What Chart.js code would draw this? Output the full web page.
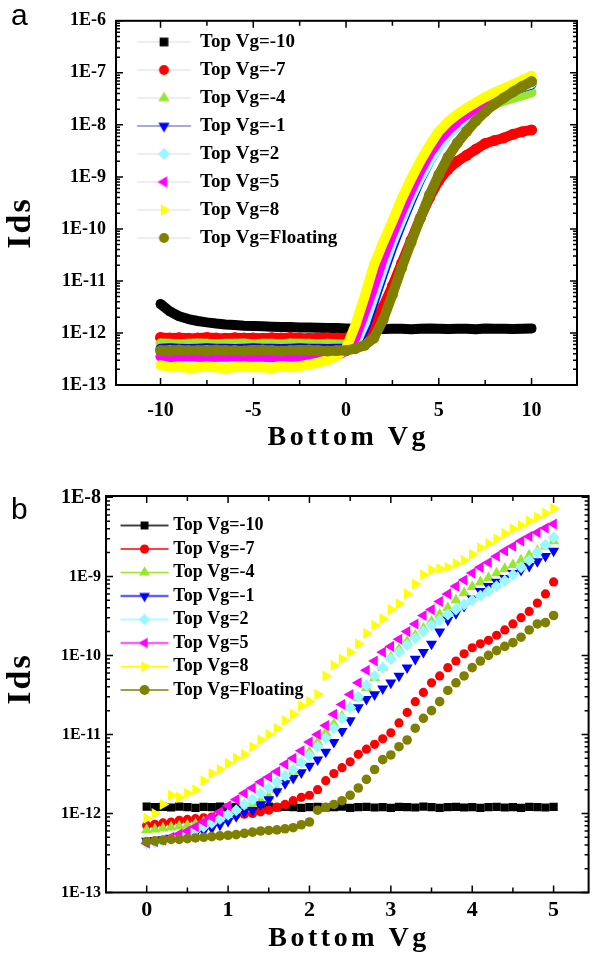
<!DOCTYPE html>
<html>
<head>
<meta charset="utf-8">
<script src="https://cdn.jsdelivr.net/npm/chart.js@4.4.1/dist/chart.umd.min.js"></script>
<style>
  body { margin: 0; background: #fff; }
  #wrap { position: relative; width: 595px; height: 955px; overflow: hidden; background: #fff; }
  canvas { position: absolute; left: 0; }
  #chartA { top: 0; }
  #chartB { top: 470px; }
  .panel { position: absolute; left: 11px; font: 30px "Liberation Sans", Arial, sans-serif; line-height: 30px; color: #000; }
</style>
</head>
<body>
<div id="wrap">
  <canvas id="chartA" width="595" height="470"></canvas>
  <canvas id="chartB" width="595" height="485"></canvas>
  <div class="panel" style="top:0">a</div>
  <div class="panel" style="top:494px">b</div>
</div>
<script>
// ---- data ----
const seriesNames = ["Top Vg=-10", "Top Vg=-7", "Top Vg=-4", "Top Vg=-1", "Top Vg=2", "Top Vg=5", "Top Vg=8", "Top Vg=Floating"];

// panel a: Bottom Vg sweep -10..10
const xTicksA = [-10, -5, 0, 5, 10];
const xMinorA = [-7.5, -2.5, 2.5, 7.5];
const yTickLabelsA = ["1E-13", "1E-12", "1E-11", "1E-10", "1E-9", "1E-8", "1E-7", "1E-6"];

const vgA = [-10, -9.5, -9, -8.5, -8, -7.5, -7, -6.5, -6, -5.5, -5, -4.5, -4, -3.5, -3, -2.5, -2, -1.5, -1, -0.5,
  0, 0.5, 1, 1.5, 2, 2.5, 3, 3.5, 4, 4.5, 5, 5.5, 6, 6.5, 7, 7.5, 8, 8.5, 9, 9.5, 10];

const idsA_m10 = [3.6e-12, 2.6e-12, 2.1e-12, 1.85e-12, 1.7e-12, 1.6e-12, 1.52e-12, 1.46e-12, 1.42e-12, 1.38e-12,
  1.36e-12, 1.34e-12, 1.32e-12, 1.3e-12, 1.3e-12, 1.28e-12, 1.27e-12, 1.26e-12, 1.25e-12, 1.24e-12,
  1.22e-12,
  1.21e-12, 1.2e-12, 1.22e-12, 1.19e-12, 1.2e-12, 1.21e-12, 1.18e-12, 1.2e-12, 1.22e-12, 1.2e-12,
  1.19e-12, 1.21e-12, 1.2e-12, 1.18e-12, 1.22e-12, 1.2e-12, 1.21e-12, 1.19e-12, 1.2e-12, 1.22e-12];
const idsA_m7 = [8.2e-13, 8e-13, 8.1e-13, 7.9e-13, 8e-13, 8.2e-13, 8e-13, 7.9e-13, 8.1e-13, 8e-13,
  8e-13, 7.9e-13, 8.1e-13, 8e-13, 8.2e-13, 8e-13, 7.9e-13, 8e-13, 8.1e-13, 8e-13,
  8e-13,
  8.5e-13, 1e-12, 1.6e-12, 3.2e-12, 8e-12, 2.2e-11, 6e-11, 1.6e-10, 4e-10, 8.5e-10,
  1.4e-9, 2e-9, 2.6e-9, 3.4e-9, 4.4e-9, 5e-9, 5.6e-9, 6.6e-9, 7.4e-9, 8e-9];
const idsA_m4 = [6.3e-13, 6.2e-13, 6.1e-13, 6.2e-13, 6.3e-13, 6.2e-13, 6.1e-13, 6.2e-13, 6.2e-13, 6.3e-13,
  6.1e-13, 6.2e-13, 6.2e-13, 6.1e-13, 6.3e-13, 6.2e-13, 6.2e-13, 6.1e-13, 6.2e-13, 6.1e-13,
  6e-13,
  6.5e-13, 1.4e-12, 4.5e-12, 1.5e-11, 5e-11, 1.4e-10, 3.8e-10, 9e-10, 2e-9, 3.8e-9,
  6.5e-9, 9.5e-9, 1.3e-8, 1.7e-8, 2.1e-8, 2.5e-8, 2.9e-8, 3.3e-8, 3.7e-8, 4.2e-8];
const idsA_m1 = [5e-13, 5.1e-13, 5e-13, 4.9e-13, 5e-13, 5.1e-13, 5e-13, 5e-13, 4.9e-13, 5e-13,
  5.1e-13, 5e-13, 5e-13, 4.9e-13, 5e-13, 5.1e-13, 5e-13, 5e-13, 4.9e-13, 5e-13,
  5e-13,
  5.5e-13, 1.2e-12, 4e-12, 1.4e-11, 4.5e-11, 1.3e-10, 3.5e-10, 9e-10, 2e-9, 4e-9,
  7e-9, 1.05e-8, 1.5e-8, 2e-8, 2.6e-8, 3.2e-8, 3.9e-8, 4.6e-8, 5.3e-8, 6e-8];
const idsA_2 = [4.5e-13, 4.6e-13, 4.5e-13, 4.4e-13, 4.5e-13, 4.6e-13, 4.5e-13, 4.5e-13, 4.4e-13, 4.5e-13,
  4.6e-13, 4.5e-13, 4.5e-13, 4.4e-13, 4.5e-13, 4.6e-13, 4.5e-13, 4.5e-13, 4.4e-13, 4.5e-13,
  4.6e-13,
  6e-13, 1.5e-12, 5e-12, 1.7e-11, 5.5e-11, 1.5e-10, 4e-10, 9.5e-10, 2e-9, 3.8e-9,
  6.5e-9, 1e-8, 1.4e-8, 1.9e-8, 2.5e-8, 3.1e-8, 3.8e-8, 4.6e-8, 5.4e-8, 6.2e-8];
const idsA_5 = [3.5e-13, 3.4e-13, 3.5e-13, 3.6e-13, 3.5e-13, 3.4e-13, 3.5e-13, 3.5e-13, 3.6e-13, 3.4e-13,
  3.5e-13, 3.5e-13, 3.4e-13, 3.6e-13, 3.5e-13, 3.5e-13, 3.4e-13, 3.5e-13, 3.6e-13, 3.7e-13,
  4.5e-13,
  8e-13, 2.5e-12, 8e-12, 2.8e-11, 8e-11, 2.2e-10, 5.5e-10, 1.3e-9, 2.8e-9, 5e-9,
  8e-9, 1.15e-8, 1.6e-8, 2.1e-8, 2.8e-8, 3.5e-8, 4.3e-8, 5.2e-8, 6e-8, 7e-8];
const idsA_8 = [2.4e-13, 2.2e-13, 2.3e-13, 2.1e-13, 2.2e-13, 2.3e-13, 2.2e-13, 2.1e-13, 2.2e-13, 2.3e-13,
  2.2e-13, 2.2e-13, 2.1e-13, 2.3e-13, 2.2e-13, 2.3e-13, 2.5e-13, 2.7e-13, 3e-13, 3.6e-13,
  5e-13,
  1.4e-12, 5e-12, 2e-11, 5.5e-11, 1.4e-10, 3.8e-10, 9e-10, 2e-9, 4e-9, 7.5e-9,
  1.15e-8, 1.6e-8, 2.1e-8, 2.7e-8, 3.4e-8, 4.2e-8, 5e-8, 6e-8, 7.2e-8, 8.8e-8];
const idsA_f = [4.6e-13, 4.5e-13, 4.7e-13, 4.6e-13, 4.6e-13, 4.5e-13, 4.7e-13, 4.6e-13, 4.6e-13, 4.5e-13,
  4.6e-13, 4.7e-13, 4.6e-13, 4.5e-13, 4.6e-13, 4.6e-13, 4.7e-13, 4.6e-13, 4.5e-13, 4.6e-13,
  4.6e-13,
  5e-13, 5.8e-13, 8e-13, 1.8e-12, 5.5e-12, 1.8e-11, 5.5e-11, 1.6e-10, 4.5e-10, 1.1e-9,
  2.4e-9, 4.5e-9, 7.5e-9, 1.2e-8, 1.8e-8, 2.5e-8, 3.3e-8, 4.3e-8, 5.5e-8, 6.8e-8];

// panel b: Bottom Vg sweep 0..5
const xTicksB = [0, 1, 2, 3, 4, 5];
const xMinorB = [0.5, 1.5, 2.5, 3.5, 4.5];
const yTickLabelsB = ["1E-13", "1E-12", "1E-11", "1E-10", "1E-9", "1E-8"];

const vgB = [0, 0.1, 0.2, 0.3, 0.4, 0.5, 0.6, 0.7, 0.8, 0.9,
  1, 1.1, 1.2, 1.3, 1.4, 1.5, 1.6, 1.7, 1.8, 1.9,
  2, 2.1, 2.2, 2.3, 2.4, 2.5, 2.6, 2.7, 2.8, 2.9,
  3, 3.1, 3.2, 3.3, 3.4, 3.5, 3.6, 3.7, 3.8, 3.9,
  4, 4.1, 4.2, 4.3, 4.4, 4.5, 4.6, 4.7, 4.8, 4.9, 5];

const idsB_m10 = [1.22e-12, 1.2e-12, 1.21e-12, 1.19e-12, 1.22e-12, 1.2e-12, 1.18e-12, 1.21e-12, 1.2e-12, 1.22e-12,
  1.19e-12, 1.2e-12, 1.21e-12, 1.18e-12, 1.2e-12, 1.22e-12, 1.19e-12, 1.21e-12, 1.2e-12, 1.18e-12,
  1.2e-12, 1.21e-12, 1.19e-12, 1.2e-12, 1.22e-12, 1.18e-12, 1.2e-12, 1.21e-12, 1.19e-12, 1.2e-12,
  1.18e-12, 1.21e-12, 1.2e-12, 1.19e-12, 1.22e-12, 1.2e-12, 1.18e-12, 1.2e-12, 1.21e-12, 1.19e-12,
  1.2e-12, 1.18e-12, 1.2e-12, 1.21e-12, 1.19e-12, 1.2e-12, 1.18e-12, 1.21e-12, 1.2e-12, 1.19e-12, 1.21e-12];
const idsB_m7 = [7.1e-13, 7.3e-13, 7.6e-13, 7.8e-13, 8.2e-13, 8.4e-13, 8.6e-13, 8.8e-13, 9e-13, 9.2e-13,
  9.4e-13, 9.6e-13, 9.8e-13, 1e-12, 1.05e-12, 1.1e-12, 1.2e-12, 1.3e-12, 1.45e-12, 1.6e-12,
  1.7e-12, 2e-12, 2.6e-12, 3.2e-12, 3.8e-12, 4.5e-12, 5.6e-12, 6.5e-12, 7.5e-12, 8.8e-12,
  1.05e-11, 1.4e-11, 1.9e-11, 2.6e-11, 3.4e-11, 4.5e-11, 5.5e-11, 7e-11, 8.5e-11, 1.05e-10,
  1.25e-10, 1.4e-10, 1.55e-10, 1.8e-10, 2.1e-10, 2.5e-10, 3e-10, 3.6e-10, 4.6e-10, 6e-10, 8.5e-10];
const idsB_m4 = [6.2e-13, 6.3e-13, 6.5e-13, 6.7e-13, 6.9e-13, 7.1e-13, 7.4e-13, 7.8e-13, 8.3e-13, 8.9e-13,
  9.6e-13, 1.05e-12, 1.15e-12, 1.3e-12, 1.45e-12, 1.65e-12, 2e-12, 2.6e-12, 3.4e-12, 4.4e-12,
  6e-12, 8e-12, 1.05e-11, 1.35e-11, 1.7e-11, 2.2e-11, 2.9e-11, 3.9e-11, 5.2e-11, 7e-11,
  9.5e-11, 1.2e-10, 1.5e-10, 1.8e-10, 2.2e-10, 2.7e-10, 3.3e-10, 4e-10, 5e-10, 6.2e-10,
  7.4e-10, 8.5e-10, 9.6e-10, 1.1e-9, 1.25e-9, 1.4e-9, 1.6e-9, 1.85e-9, 2.1e-9, 2.4e-9, 2.8e-9];
const idsB_m1 = [4.5e-13, 4.6e-13, 4.7e-13, 4.9e-13, 5.1e-13, 5.3e-13, 5.6e-13, 6e-13, 6.5e-13, 7.2e-13,
  8e-13, 9.2e-13, 1.05e-12, 1.1e-12, 1.3e-12, 1.5e-12, 1.9e-12, 2.4e-12, 2.8e-12, 3.3e-12,
  4e-12, 4.8e-12, 6e-12, 8e-12, 1.1e-11, 1.5e-11, 2.2e-11, 2.8e-11, 3.2e-11, 3.8e-11,
  4.5e-11, 5.5e-11, 7e-11, 9e-11, 1.1e-10, 1.4e-10, 2e-10, 2.8e-10, 3.4e-10, 4.2e-10,
  5.2e-10, 6.5e-10, 7.5e-10, 8.5e-10, 9.5e-10, 1.1e-9, 1.2e-9, 1.35e-9, 1.55e-9, 1.8e-9, 2.1e-9];
const idsB_2 = [4.2e-13, 4.3e-13, 4.5e-13, 4.8e-13, 5.2e-13, 5.6e-13, 6.2e-13, 6.8e-13, 7.6e-13, 8.5e-13,
  9.6e-13, 1.1e-12, 1.3e-12, 1.5e-12, 1.8e-12, 2.1e-12, 2.5e-12, 3e-12, 3.6e-12, 4.4e-12,
  5.4e-12, 7e-12, 9e-12, 1.2e-11, 1.6e-11, 2.2e-11, 3e-11, 4.2e-11, 5.5e-11, 7e-11,
  9e-11, 1.1e-10, 1.35e-10, 1.65e-10, 2e-10, 2.4e-10, 2.8e-10, 3.3e-10, 3.8e-10, 4.4e-10,
  5e-10, 5.7e-10, 6.5e-10, 7.5e-10, 8.8e-10, 1.05e-9, 1.3e-9, 1.6e-9, 2e-9, 2.5e-9, 3.1e-9];
const idsB_5 = [4.2e-13, 4.4e-13, 4.6e-13, 5e-13, 5.5e-13, 6e-13, 6.8e-13, 7.8e-13, 9e-13, 1.05e-12,
  1.25e-12, 1.5e-12, 1.8e-12, 2.1e-12, 2.5e-12, 2.9e-12, 3.4e-12, 4.2e-12, 5e-12, 6.2e-12,
  8e-12, 1e-11, 1.3e-11, 1.8e-11, 2.4e-11, 3.2e-11, 4.5e-11, 6.5e-11, 8.5e-11, 1.1e-10,
  1.3e-10, 1.6e-10, 2e-10, 2.5e-10, 3.2e-10, 3.8e-10, 4.8e-10, 6e-10, 7.5e-10, 9e-10,
  1.1e-9, 1.3e-9, 1.5e-9, 1.8e-9, 2.1e-9, 2.4e-9, 2.8e-9, 3.2e-9, 3.6e-9, 4.1e-9, 4.6e-9];
const idsB_8 = [8.7e-13, 1e-12, 1.3e-12, 1.7e-12, 1.6e-12, 1.8e-12, 2e-12, 2.6e-12, 3.2e-12, 3.6e-12,
  4.3e-12, 5e-12, 5.6e-12, 7e-12, 8.5e-12, 1e-11, 1.2e-11, 1.5e-11, 1.8e-11, 2.3e-11,
  2.6e-11, 3.2e-11, 5.5e-11, 7.5e-11, 9e-11, 1.1e-10, 1.4e-10, 1.9e-10, 2.4e-10, 2.9e-10,
  3.8e-10, 4.5e-10, 6e-10, 8e-10, 1.05e-9, 1.2e-9, 1.25e-9, 1.3e-9, 1.45e-9, 1.6e-9,
  1.9e-9, 2.3e-9, 2.6e-9, 3e-9, 3.5e-9, 4e-9, 4.4e-9, 5e-9, 5.6e-9, 6.3e-9, 7.2e-9];
const idsB_f = [4.4e-13, 4.5e-13, 4.6e-13, 4.7e-13, 4.7e-13, 4.8e-13, 4.9e-13, 5e-13, 5.1e-13, 5.2e-13,
  5.3e-13, 5.4e-13, 5.6e-13, 5.8e-13, 6e-13, 6.1e-13, 6.2e-13, 6.4e-13, 6.6e-13, 7.2e-13,
  7.8e-13, 1.1e-12, 1.2e-12, 1.3e-12, 1.45e-12, 1.7e-12, 2.1e-12, 2.7e-12, 3.6e-12, 4.8e-12,
  5.5e-12, 7e-12, 8.5e-12, 1.2e-11, 1.6e-11, 2e-11, 2.6e-11, 3.6e-11, 4.5e-11, 5.5e-11,
  7e-11, 8.5e-11, 1e-10, 1.15e-10, 1.3e-10, 1.45e-10, 1.7e-10, 2.1e-10, 2.5e-10, 2.6e-10, 3.2e-10];

const seriesA = [idsA_m10, idsA_m7, idsA_m4, idsA_m1, idsA_2, idsA_5, idsA_8, idsA_f];
const seriesB = [idsB_m10, idsB_m7, idsB_m4, idsB_m1, idsB_2, idsB_5, idsB_8, idsB_f];

// ---- styles ----
const colors = ["#000000", "#ff0000", "#99e62e", "#0000ff", "#99f8ff", "#ff00ff", "#ffff00", "#7f7f00"];
const shapes = ["rect", "circle", "triangle", "triangle", "rectRot", "triangle", "triangle", "circle"];
const rotations = [0, 0, 0, 180, 0, 270, 90, 0];
const markerB = [5.8, 4.6, 6.4, 6.4, 6, 6.4, 6.4, 4.8];
const SERIF = "'Liberation Serif', 'Times New Roman', serif";

function legendIcon(i, w, half, shift, lineColor, lineWidth, r) {
  const c = document.createElement("canvas");
  c.width = w;
  c.height = Math.ceil(2 * r + 4);
  const ctx = c.getContext("2d");
  const cx = w / 2 + shift;
  const cy = c.height / 2;
  if (lineWidth > 0) {
    ctx.strokeStyle = lineColor;
    ctx.lineWidth = lineWidth;
    ctx.beginPath();
    ctx.moveTo(cx - half, cy);
    ctx.lineTo(cx + half, cy);
    ctx.stroke();
  }
  ctx.fillStyle = colors[i];
  ctx.strokeStyle = colors[i];
  Chart.helpers.drawPoint(ctx, { pointStyle: shapes[i], rotation: rotations[i], radius: r, borderWidth: 0 }, cx, cy);
  return c;
}

// box frame, inward ticks on all four sides, axis titles
const frameTicks = {
  id: "frameTicks",
  afterDatasetsDraw(chart, args, opts) {
    const { ctx, chartArea: a, scales: { x, y } } = chart;
    ctx.save();
    ctx.strokeStyle = "#000";
    ctx.lineWidth = 2;
    ctx.strokeRect(a.left, a.top, a.right - a.left, a.bottom - a.top);
    ctx.lineWidth = 1.5;
    ctx.beginPath();
    const tickX = (v, len) => {
      const px = x.getPixelForValue(v);
      ctx.moveTo(px, a.bottom); ctx.lineTo(px, a.bottom - len);
      ctx.moveTo(px, a.top); ctx.lineTo(px, a.top + len);
    };
    const tickY = (v, len) => {
      const py = y.getPixelForValue(v);
      ctx.moveTo(a.left, py); ctx.lineTo(a.left + len, py);
      ctx.moveTo(a.right, py); ctx.lineTo(a.right - len, py);
    };
    opts.xMajor.forEach((v) => tickX(v, 7));
    opts.xMinor.forEach((v) => tickX(v, 5));
    y.ticks.forEach((t) => {
      tickY(t.value, 7);
      for (let k = 2; k < 10; k++) {
        if (t.value * k <= y.max) tickY(t.value * k, 4);
      }
    });
    ctx.stroke();

    // axis titles (wide letter spacing as in the original figure)
    ctx.fillStyle = "#000";
    ctx.textAlign = "center";
    ctx.textBaseline = "middle";
    ctx.font = "bold 28px " + SERIF;
    ctx.letterSpacing = "3.5px";
    ctx.fillText("Bottom Vg", (a.left + a.right) / 2 + 1.75, opts.xTitleY);
    ctx.font = "bold 34px " + SERIF;
    ctx.letterSpacing = "2px";
    ctx.translate(opts.yTitleX, opts.yTitleY);
    ctx.rotate(-Math.PI / 2);
    ctx.fillText("Ids", 1, 0);
    ctx.restore();
  },
};

function makeChart(id, o) {
  const canvas = document.getElementById(id);
  return new Chart(canvas.getContext("2d"), {
    type: "scatter",
    data: {
      datasets: seriesNames.map((name, i) => ({
        label: name,
        data: o.xs.map((x, j) => ({ x, y: o.series[i][j] })),
        showLine: o.band > 0,
        borderColor: colors[i],
        borderWidth: o.band,
        borderJoinStyle: "round",
        borderCapStyle: "round",
        backgroundColor: colors[i],
        pointBackgroundColor: colors[i],
        pointStyle: shapes[i],
        pointRotation: rotations[i],
        pointRadius: o.marker[i],
        pointBorderWidth: 0,
        order: seriesNames.length - i,
      })),
    },
    options: {
      responsive: false,
      animation: false,
      devicePixelRatio: 1,
      events: [],
      layout: { padding: o.padding },
      scales: {
        x: {
          type: "linear",
          min: o.xMin,
          max: o.xMax,
          afterBuildTicks: (s) => { s.ticks = o.xTicks.map((v) => ({ value: v })); },
          afterFit: (s) => { s.height = o.xHeight; },
          grid: { display: false, drawTicks: false },
          border: { display: false },
          ticks: { color: "#000", padding: o.xTickPad, font: { family: SERIF, weight: "bold", size: o.xTickSize } },
          title: { display: false },
        },
        y: {
          type: "logarithmic",
          min: Number(o.yLabels[0]),
          max: o.yMax,
          afterBuildTicks: (s) => { s.ticks = o.yLabels.map((l) => ({ value: Number(l) })); },
          afterFit: (s) => { s.width = o.yWidth; },
          grid: { display: false, drawTicks: false },
          border: { display: false },
          ticks: {
            color: "#000",
            padding: o.yTickPad,
            autoSkip: false,
            callback: (v, i) => o.yLabels[i],
            font: o.yTickFont,
          },
          title: { display: false },
        },
      },
      plugins: {
        tooltip: { enabled: false },
        frameTicks: { xMajor: o.xTicks, xMinor: o.xMinor, xTitleY: o.xTitleY, yTitleX: 21, yTitleY: o.yTitleY },
        legend: {
          position: "chartArea",
          align: "start",
          title: { display: true, text: "", padding: { top: o.legendTop, bottom: 0 }, font: { size: 1, lineHeight: 1 } },
          labels: {
            usePointStyle: true,
            pointStyleWidth: o.legendBox,
            padding: o.legendPad,
            color: "#000",
            font: { family: SERIF, weight: "bold", size: o.legendFont },
            generateLabels: () => seriesNames.map((name, i) => ({
              text: name,
              fontColor: "#000",
              pointStyle: o.icons[i],
              fillStyle: colors[i],
              strokeStyle: colors[i],
              lineWidth: 0,
              hidden: false,
              datasetIndex: i,
            })),
          },
        },
      },
    },
    plugins: [frameTicks],
  });
}

const iconsA = seriesNames.map((n, i) => legendIcon(i, 72, 27, 6.25,
  i === 3 ? "rgba(40,40,160,0.8)" : "rgba(120,120,120,0.25)", 1, [6.2, 5, 6.5, 6.5, 6, 6.5, 6.5, 5][i]));
const iconsB = seriesNames.map((n, i) => legendIcon(i, 66, 24, 6.6, colors[i], 1.5, [5.6, 4.6, 6.2, 6.2, 5.8, 6.2, 6.2, 5][i]));

makeChart("chartA", {
  xs: vgA, series: seriesA, band: 10, marker: [5.5, 5.5, 5.5, 5.5, 5.5, 5.5, 5.5, 5.5],
  padding: { top: 15, right: 18, left: 0, bottom: 0 },
  xMin: -12.4, xMax: 12.45, xTicks: xTicksA, xMinor: xMinorA,
  xHeight: 85, xTickPad: 14, xTickSize: 20, xTitleY: 438,
  yLabels: yTickLabelsA, yMax: 1e-6, yWidth: 116, yTickPad: 10,
  yTickFont: { family: SERIF, weight: "bold", size: 18 },
  yTitleY: 224,
  legendTop: 22.5, legendPad: 9, legendBox: 65.5, legendFont: 19, icons: iconsA,
});

makeChart("chartB", {
  xs: vgB, series: seriesB, band: 0, marker: markerB,
  padding: { top: 26, right: 4, left: 0, bottom: 0 },
  xMin: -0.5, xMax: 5.43, xTicks: xTicksB, xMinor: xMinorB,
  xHeight: 62.5, xTickPad: 4.3, xTickSize: 22, xTitleY: 469,
  yLabels: yTickLabelsB, yMax: 1.04e-8, yWidth: 106, yTickPad: 5,
  yTickFont: (ctx) => ({ family: SERIF, weight: "bold", size: ctx.tick && ctx.tick.value > 5e-9 ? 20 : 16 }),
  yTitleY: 210,
  legendTop: 40, legendPad: 5.5, legendBox: 52.8, legendFont: 18, icons: iconsB,
});
</script>
</body>
</html>
